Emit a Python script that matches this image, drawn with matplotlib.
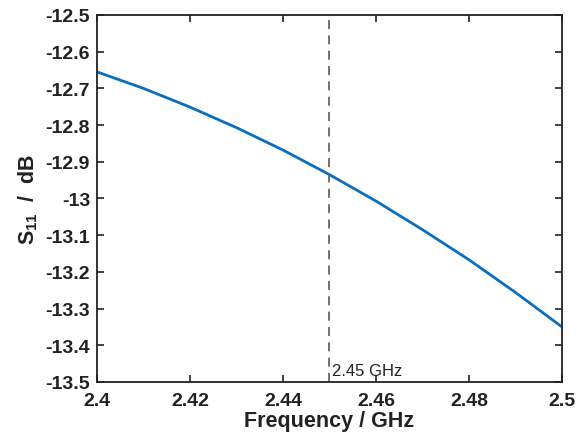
import matplotlib
matplotlib.use("Agg")
import matplotlib.pyplot as plt

plt.rcParams["font.family"] = ["Liberation Sans", "DejaVu Sans"]
plt.rcParams["mathtext.fontset"] = "custom"
plt.rcParams["mathtext.rm"] = "Liberation Sans:bold"
plt.rcParams["mathtext.bf"] = "Liberation Sans:bold"

# Data
freq = [2.40, 2.41, 2.42, 2.43, 2.44, 2.45, 2.46, 2.47, 2.48, 2.49, 2.50]
s11 = [-12.655, -12.700, -12.751, -12.807, -12.868, -12.935,
       -13.007, -13.085, -13.167, -13.256, -13.350]
marker_freq = 2.45
xticks = [2.40, 2.42, 2.44, 2.46, 2.48, 2.50]
xtick_labels = ["2.4", "2.42", "2.44", "2.46", "2.48", "2.5"]
yticks = [-12.5, -12.6, -12.7, -12.8, -12.9, -13.0, -13.1, -13.2, -13.3, -13.4, -13.5]
ytick_labels = ["-12.5", "-12.6", "-12.7", "-12.8", "-12.9", "-13",
                "-13.1", "-13.2", "-13.3", "-13.4", "-13.5"]

fig = plt.figure(figsize=(5.86, 4.39), dpi=100)
ax = fig.add_axes([0.1655, 0.1276, 0.7935, 0.836])

ax.plot(freq, s11, color="#0A6EBD", linewidth=2)
ax.axvline(marker_freq, color="#666666", linestyle=(0, (5, 3.5)), linewidth=1.3)
ax.text(marker_freq + 0.0006, -13.488, "2.45 GHz", fontsize=12, color="#222222",
        va="bottom", ha="left")

ax.set_xlim(2.40, 2.50)
ax.set_ylim(-13.5, -12.5)
ax.set_xticks(xticks)
ax.set_xticklabels(xtick_labels)
ax.set_yticks(yticks)
ax.set_yticklabels(ytick_labels)
ax.tick_params(direction="in", top=True, right=True, length=5, width=1.2,
               labelsize=14, colors="#222222")
ax.tick_params(axis="x", pad=7)
ax.tick_params(axis="y", pad=5)
for lbl in ax.get_xticklabels() + ax.get_yticklabels():
    lbl.set_fontweight("bold")
for sp in ax.spines.values():
    sp.set_linewidth(1.3)
    sp.set_color("#222222")

ax.set_xlabel("Frequency / GHz", fontsize=15.5, fontweight="bold", color="#222222", labelpad=1)
ax.set_ylabel(r"$\mathbf{S_{11}}$  /  dB", fontsize=15.5, fontweight="bold", color="#222222", labelpad=4)

fig.savefig("out.png", dpi=100)
